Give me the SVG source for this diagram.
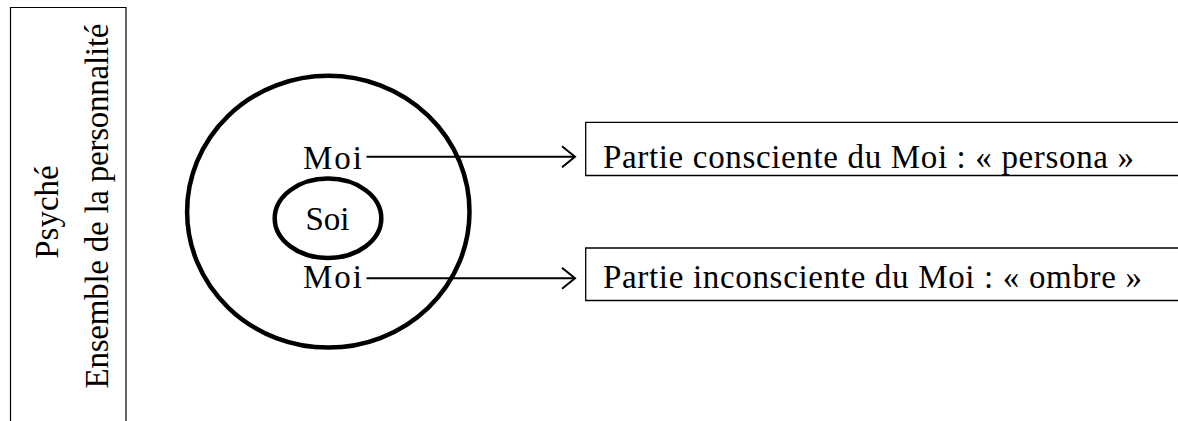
<svg xmlns="http://www.w3.org/2000/svg" width="1178" height="421" viewBox="0 0 1178 421">
<defs>
<style>
.ring{fill:none;stroke:#000;stroke-width:4.5}
.box{fill:#fff;stroke:#000;stroke-width:1.3}
.conn{fill:none;stroke:#000;stroke-width:2}
</style>
<marker id="chev" viewBox="0 0 16 24" refX="14" refY="12" markerWidth="16" markerHeight="24" markerUnits="userSpaceOnUse" orient="auto">
<polyline points="1,1.5 14,12 1,22.5" fill="none" stroke="#000" stroke-width="2"/>
</marker>
</defs>
<g id="psyche">
<path d="M10.5,421 V7.5 H126 V421" fill="none" stroke="#000" stroke-width="1.2"/>
<text font-family="Liberation Serif" font-size="33" transform="translate(57.5,212) rotate(-90)" text-anchor="middle">Psyché</text>
<text font-family="Liberation Serif" font-size="33" transform="translate(107.5,206) rotate(-90)" text-anchor="middle" textLength="365" lengthAdjust="spacing">Ensemble de la personnalité</text>
</g>
<g id="outer">
<ellipse class="ring" cx="328.3" cy="211.7" rx="141.2" ry="135.9"/>
</g>
<g id="soi">
<ellipse class="ring" cx="328" cy="218.3" rx="53.3" ry="39.7"/>
<text font-family="Liberation Serif" font-size="33" x="327.5" y="230" text-anchor="middle">Soi</text>
</g>
<g id="moi-top">
<text font-family="Liberation Serif" font-size="33" x="303" y="169" textLength="59" lengthAdjust="spacing">Moi</text>
</g>
<g id="moi-bottom">
<text font-family="Liberation Serif" font-size="33" x="303" y="288" textLength="59" lengthAdjust="spacing">Moi</text>
</g>
<g id="connectors">
<line class="conn" x1="366.5" y1="156.7" x2="575" y2="156.7" marker-end="url(#chev)"/>
<line class="conn" x1="366.5" y1="278.3" x2="575" y2="278.3" marker-end="url(#chev)"/>
</g>
<g id="persona">
<path class="box" d="M1180,122.3 H585.7 V175.5 H1180"/>
<text font-family="Liberation Serif" font-size="33" x="603" y="168" textLength="531" lengthAdjust="spacing">Partie consciente du Moi : « persona »</text>
</g>
<g id="ombre">
<path class="box" d="M1180,248 H585.7 V300.5 H1180"/>
<text font-family="Liberation Serif" font-size="33" x="603" y="288" textLength="539" lengthAdjust="spacing">Partie inconsciente du Moi : « ombre »</text>
</g>
</svg>
